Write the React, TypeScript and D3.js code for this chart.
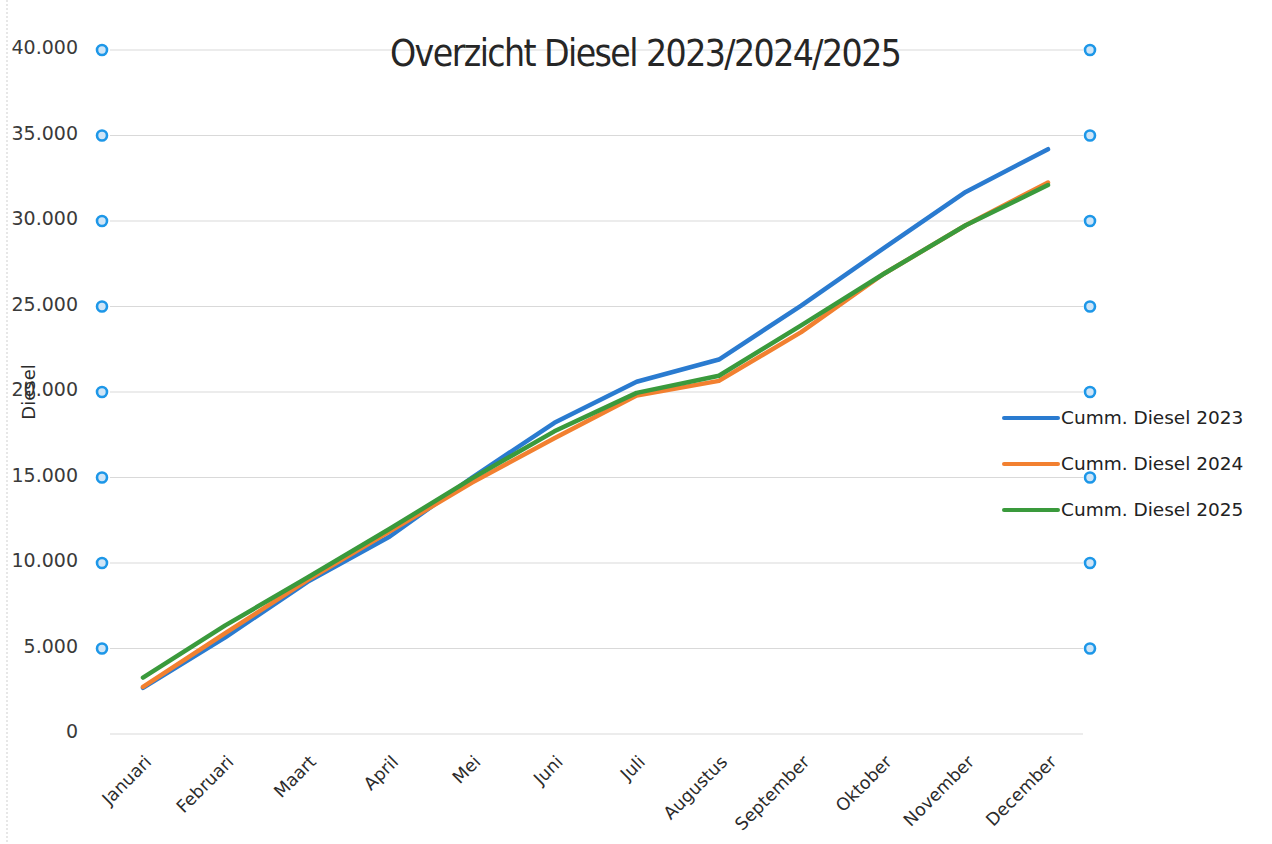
import * as d3 from "d3";
import { useEffect, useRef } from "react";

const months = ["Januari", "Februari", "Maart", "April", "Mei", "Juni", "Juli", "Augustus", "September", "Oktober", "November", "December"];
const diesel2023 = [2700, 5650, 8900, 11550, 15000, 18200, 20600, 21900, 25050, 28400, 31700, 34200];
const diesel2024 = [2750, 5900, 9000, 11850, 14700, 17300, 19800, 20650, 23500, 26900, 29750, 32250];
const diesel2025 = [3300, 6350, 9150, 12000, 14950, 17700, 19950, 20950, 23900, 26900, 29750, 32100];
const seriesNames = ["Cumm. Diesel 2023", "Cumm. Diesel 2024", "Cumm. Diesel 2025"];
const seriesColors = ["#2a7bd0", "#f28030", "#3a9a3c"];
const yTicks = [0, 5000, 10000, 15000, 20000, 25000, 30000, 35000, 40000];

const width = 1272;
const height = 844;

function App() {
    const gx = useRef<SVGGElement>(null);
    const gy = useRef<SVGGElement>(null);

    const x = d3.scalePoint().domain(months).range([143, 1048]);
    const y = d3.scaleLinear().domain([0, 40000]).range([734, 50]);

    const fmt = (v: number) => v === 0 ? "0" : d3.format(",")(v).replace(/,/g, ".");

    const line = d3.line<number>()
        .x((_, i) => x(months[i]) as number)
        .y(d => y(d));

    const allSeries = [diesel2023, diesel2024, diesel2025];

    useEffect(() => {
        // month labels, slanted
        const ax = d3.select(gx.current)
            .call(d3.axisBottom(x).tickSize(0).tickPadding(0));
        ax.select(".domain").remove();
        ax.selectAll("text")
            .attr("transform", "translate(9,29) rotate(-45)")
            .attr("dy", 0)
            .attr("y", 0)
            .style("text-anchor", "end")
            .style("font-family", "'DejaVu Sans', Verdana, sans-serif")
            .style("font-size", "17.5px")
            .style("fill", "#2b2b2b");

        // value labels on the left
        const ay = d3.select(gy.current)
            .call(d3.axisLeft(y).tickValues(yTicks).tickSize(0).tickPadding(0).tickFormat(d => fmt(d as number)));
        ay.select(".domain").remove();
        ay.selectAll("text")
            .attr("dy", "0.2em")
            .style("font-family", "'DejaVu Sans', sans-serif")
            .style("font-size", "19px")
            .style("fill", "#3a3a3a");
    }, []);

    return (
        <svg width={width} height={height} style={{ position: "absolute", left: 0, top: 0, background: "#fff" }}>
            <line x1={7} x2={7} y1={0} y2={height} stroke="#cfcfcf" strokeDasharray="2,2" />

            {/* gridlines */}
            <g>
                {yTicks.map(t => (
                    <line key={t} x1={110} x2={1083} y1={y(t)} y2={y(t)} stroke="#d9d9d9" strokeWidth={1} />
                ))}
            </g>

            <text
                x={646}
                y={66}
                textAnchor="middle"
                fontFamily="'Liberation Sans Narrow', 'DejaVu Sans Condensed', sans-serif"
                fontSize={37}
                textLength={512}
                lengthAdjust="spacing"
                fill="#262626"
            >
                Overzicht Diesel 2023/2024/2025
            </text>

            <g ref={gy} transform="translate(78,0)" />
            <g ref={gx} transform={`translate(0,${y(0)})`} />

            <text
                transform={`translate(35,${392}) rotate(-90)`}
                textAnchor="middle"
                fontFamily="'DejaVu Sans', sans-serif"
                fontSize={18}
                fill="#2b2b2b"
            >
                Diesel
            </text>

            {/* series */}
            <g fill="none" strokeWidth={4.5} strokeLinejoin="round" strokeLinecap="round">
                {allSeries.map((s, i) => (
                    <path key={i} d={line(s) as string} stroke={seriesColors[i]} />
                ))}
            </g>

            {/* selection handles */}
            <g fill="#cfe5f7" stroke="#1d97e8" strokeWidth={2.6}>
                {yTicks.filter(t => t > 0).map(t => (
                    <g key={t}>
                        <circle cx={102} cy={y(t)} r={5} />
                        <circle cx={1090} cy={y(t)} r={5} />
                    </g>
                ))}
            </g>

            {/* legend */}
            <g>
                {seriesNames.map((name, i) => (
                    <g key={name} transform={`translate(1004,${418 + i * 46})`}>
                        <line x1={0} x2={54} y1={0} y2={0} stroke={seriesColors[i]} strokeWidth={4} strokeLinecap="round" />
                        <text x={57} y={6} fontFamily="'DejaVu Sans', sans-serif" fontSize={18.5} fill="#222">{name}</text>
                    </g>
                ))}
            </g>
        </svg>
    );
}

export default App;
